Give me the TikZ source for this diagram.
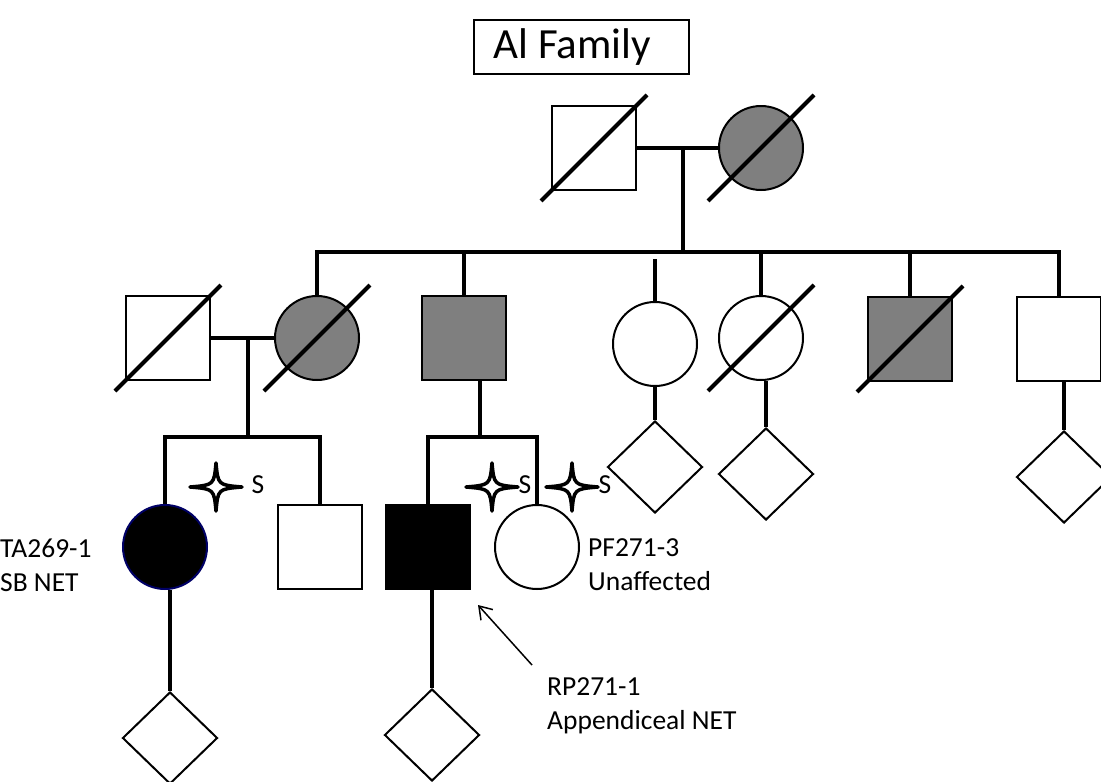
\documentclass[tikz,border=0pt]{standalone}
\usepackage{fontspec}
\setmainfont{Carlito}
\usetikzlibrary{shapes.geometric,arrows.meta}
\definecolor{affgray}{RGB}{127,127,127}

\newcommand\dead[1]{\draw[line width=4pt] ([shift={(-53,53)}]#1.center) -- ([shift={(53,-53)}]#1.center);}

\begin{document}
\begin{tikzpicture}[x=1pt,y=-1pt,
	male/.style={draw,line width=2pt,rectangle,minimum size=84pt,inner sep=0pt,fill=white},
	female/.style={draw,line width=2pt,circle,minimum size=84pt,inner sep=0pt,fill=white},
	unknown/.style={draw,line width=2pt,diamond,minimum width=95pt,minimum height=92pt,inner sep=0pt,fill=white},
	aff/.style={fill=affgray},
	case/.style={fill=black},
	conn/.style={line width=4pt},
	lbl/.style={font=\fontsize{27.5}{34}\selectfont,align=left,inner sep=0pt},
	ptr/.style={line width=1.5pt,-{Straight Barb[length=12pt,width=16pt]}},
	sperm/.pic={\draw[line width=3.5pt,fill=white,line join=round] (0,-24) .. controls (2,-2) .. (26,0) .. controls (2,2) .. (0,24) .. controls (-2,2) .. (-26,0) .. controls (-2,-2) .. cycle;}]
	\useasboundingbox (0,0) rectangle (1101,782);

	\node[draw,line width=1.5pt,minimum width=215pt,minimum height=54pt,font=\fontsize{43}{48}\selectfont] (title) at (581.5,47) {Al Family\kern18pt};

	\node[male] (I1) at (594,148) {};
	\node[female,aff] (I2) at (761,148) {};

	\node[male] (II1) at (168,338) {};
	\node[female,aff] (II2) at (317,338) {};
	\node[male,aff] (II3) at (464,338) {};
	\node[female] (II4) at (655,344) {};
	\node[female] (II5) at (761,338) {};
	\node[male,aff] (II6) at (910,339) {};
	\node[male] (II7) at (1059,339) {};

	\node[female,case,draw=blue!40!black] (III1) at (165,547) {};
	\node[male] (III2) at (320,547) {};
	\node[male,case] (III3) at (428,547) {};
	\node[female] (III4) at (537,547) {};
	\node[unknown] (III5) at (655,467) {};
	\node[unknown] (III6) at (766,474) {};
	\node[unknown] (III7) at (1064,477) {};

	\node[unknown] (IV1) at (170,738) {};
	\node[unknown] (IV2) at (432,735) {};

	\coordinate (m1) at (683,148);
	\coordinate (s1) at (683,252);
	\coordinate (m2) at (248,338);
	\coordinate (s2) at (248,437);
	\coordinate (s3) at (480,437);

	\path[conn] (I1) edge (I2);
	\path[conn] (m1) edge (s1);
	\draw[conn] (II2.north) |- (s1) -| (II7.north);
	\foreach \n in {II3,II5,II6}
		\draw[conn] (\n.north) -- (\n.north |- s1);
	\draw[conn,shorten >=7pt] (II4.north) -- (II4.north |- s1);

	\path[conn] (II1) edge (II2);
	\path[conn] (m2) edge (s2);
	\draw[conn] (III1.north) |- (s2) -| (III2.north);
	\draw[conn] (s3 |- II3.south) -- (s3);
	\draw[conn] (III3.north) |- (s3) -| (III4.north);

	\draw[conn] (III5.north) -- (III5.north |- II4.south);
	\draw[conn] (III6.north) -- (III6.north |- II5.south);
	\draw[conn] (III7.north) -- (III7.north |- II7.south);
	\draw[conn] (IV1.north) -- (IV1.north |- III1.south);
	\draw[conn] (IV2.north) -- (IV2.north |- III3.south);

	\foreach \n in {I1,I2,II1,II2,II5,II6}
		{\dead{\n}}

	\pic at (216,487) {sperm};
	\node[lbl] (S1) at (258,485) {S};
	\pic at (492,487) {sperm};
	\node[lbl] (S2) at (525,485) {S};
	\pic at (572,487) {sperm};
	\node[lbl] (S3) at (605,485) {S};

	\node[lbl,anchor=west] (lab1) at (0,565) {TA269-1\\SB NET};
	\node[lbl,anchor=west] (lab2) at (588,565) {PF271-3\\Unaffected};
	\node[lbl,anchor=west] (lab3) at (547,706) {RP271-1\\Appendiceal NET};

	\coordinate (tail) at (532,665);
	\draw[ptr] (tail) -- ([shift={(7,15)}]III3.south east);
\end{tikzpicture}
\end{document}
